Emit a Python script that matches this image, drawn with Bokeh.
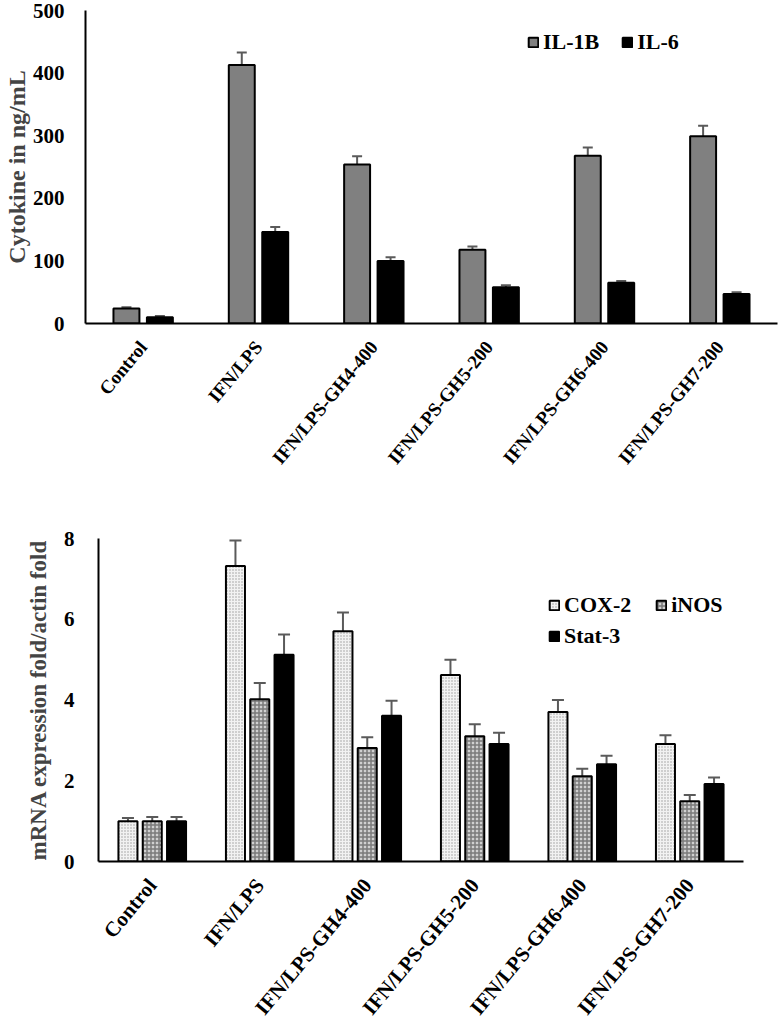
import math

from bokeh.embed import file_html
from bokeh.layouts import column
from bokeh.models import (ColumnDataSource, FactorRange, FixedTicker, Legend,
                          LegendItem, Range1d, TeeHead, Whisker)
from bokeh.plotting import figure
from bokeh.resources import INLINE
from bokeh.transform import dodge

# ---------------------------------------------------------------- data
groups = ["Control", "IFN/LPS", "IFN/LPS-GH4-400", "IFN/LPS-GH5-200",
          "IFN/LPS-GH6-400", "IFN/LPS-GH7-200"]

# cytokine release (ng/mL), mean and SD
il1b = [24, 413, 254, 118, 268, 299]
il1b_sd = [2, 20, 13, 5, 13, 17]
il6 = [10, 146, 100, 58, 65, 47]
il6_sd = [2, 8, 6, 3, 3, 3]
cytokine_ticks = [0, 100, 200, 300, 400, 500]

# mRNA expression (fold over actin), mean and SD
cox2 = [1.0, 7.32, 5.70, 4.62, 3.70, 2.91]
cox2_sd = [0.08, 0.63, 0.47, 0.38, 0.30, 0.22]
inos = [1.0, 4.02, 2.81, 3.10, 2.11, 1.49]
inos_sd = [0.10, 0.40, 0.27, 0.30, 0.19, 0.16]
stat3 = [1.0, 5.12, 3.61, 2.91, 2.41, 1.92]
stat3_sd = [0.10, 0.50, 0.37, 0.28, 0.21, 0.16]
mrna_ticks = [0, 2, 4, 6, 8]

FONT = "Liberation Serif"
ERR = "#5a5a5a"
LABEL_ANGLE = 0.88


def add(a, b):
    return [x + y for x, y in zip(a, b)]


def make_fig(height, ymax, ticks, ylabel, left, right, top, bottom,
             xlabel_size, ylabel_size, tick_gap, title_gap):
    p = figure(x_range=FactorRange(factors=groups), y_range=Range1d(0, ymax),
               width=779, height=height, output_backend="svg",
               toolbar_location=None, min_border_left=left,
               min_border_right=right, min_border_top=top,
               min_border_bottom=bottom)
    # each panel keeps its own frame position inside the column
    p.frame_align = False
    p.outline_line_color = None
    p.grid.grid_line_color = None
    p.background_fill_color = "white"

    ya = p.yaxis[0]
    ya.ticker = FixedTicker(ticks=ticks)
    ya.axis_label = ylabel
    ya.axis_label_text_font = FONT
    ya.axis_label_text_font_style = "bold"
    ya.axis_label_text_font_size = ylabel_size
    ya.axis_label_standoff = title_gap
    ya.major_label_text_font = FONT
    ya.major_label_text_font_style = "bold"
    ya.major_label_text_font_size = "21px"
    ya.major_label_text_color = "black"
    ya.major_label_standoff = tick_gap
    ya.axis_line_width = 2
    ya.axis_line_color = "black"
    ya.major_tick_line_color = None
    ya.minor_tick_line_color = None

    xa = p.xaxis[0]
    xa.major_label_orientation = LABEL_ANGLE
    xa.major_label_text_font = FONT
    xa.major_label_text_font_style = "bold"
    xa.major_label_text_font_size = xlabel_size
    xa.major_label_text_color = "black"
    xa.major_label_standoff = 14
    xa.axis_line_width = 2
    xa.axis_line_color = "black"
    xa.major_tick_line_color = None
    xa.minor_tick_line_color = None
    return p


def error_bars(p, src, offset, lo, hi, head):
    p.add_layout(Whisker(base=dodge("group", offset, range=p.x_range),
                         lower=lo, upper=hi, source=src,
                         line_color=ERR, line_width=2, lower_head=None,
                         upper_head=TeeHead(size=head, line_color=ERR,
                                            line_width=2)))


def style_legend(lg):
    lg.label_text_font = FONT
    lg.label_text_font_style = "bold"
    lg.label_text_font_size = "22px"
    lg.label_text_color = "black"
    lg.glyph_width = 12
    lg.glyph_height = 12
    lg.label_standoff = 4
    lg.padding = 0
    lg.margin = 0
    lg.border_line_color = None
    lg.background_fill_alpha = 0


# ---------------------------------------------------------------- cytokines
top_src = ColumnDataSource(dict(group=groups, il1b=il1b,
                                il1b_hi=add(il1b, il1b_sd), il6=il6,
                                il6_hi=add(il6, il6_sd)))

p1 = make_fig(490, 500, cytokine_ticks, "Cytokine in ng/mL",
              85, 2, 10, 167, "19px", "24px", 15, 0)

r_il1b = p1.vbar(x=dodge("group", -0.145, range=p1.x_range), top="il1b",
                 width=0.225, source=top_src, fill_color="#808080",
                 line_color="black", line_width=2)
r_il6 = p1.vbar(x=dodge("group", 0.145, range=p1.x_range), top="il6",
                width=0.225, source=top_src, fill_color="black",
                line_color="black", line_width=2)
error_bars(p1, top_src, -0.145, "il1b", "il1b_hi", 10)
error_bars(p1, top_src, 0.145, "il6", "il6_hi", 10)

leg1 = Legend(items=[LegendItem(label="IL-1B", renderers=[r_il1b]),
                     LegendItem(label="IL-6", renderers=[r_il6])],
              orientation="horizontal", location=(442, 268), spacing=22)
style_legend(leg1)
p1.add_layout(leg1)

# ---------------------------------------------------------------- mRNA
bot_src = ColumnDataSource(dict(group=groups, cox2=cox2,
                                cox2_hi=add(cox2, cox2_sd), inos=inos,
                                inos_hi=add(inos, inos_sd), stat3=stat3,
                                stat3_hi=add(stat3, stat3_sd)))

p2 = make_fig(540, 8, mrna_ticks, "mRNA expression fold/actin fold",
              98, 36, 48, 167, "21px", "23px", 18, 10)

off = 0.226
r_cox2 = p2.vbar(x=dodge("group", -off, range=p2.x_range), top="cox2",
                 width=0.177, source=bot_src, fill_color="#f2f2f2",
                 hatch_pattern="dot", hatch_color="#9a9a9a", hatch_scale=3,
                 hatch_weight=1, line_color="black", line_width=2)
r_inos = p2.vbar(x=dodge("group", 0, range=p2.x_range), top="inos",
                 width=0.177, source=bot_src, fill_color="#d0d0d0",
                 hatch_pattern="cross", hatch_color="#7a7a7a", hatch_scale=4,
                 hatch_weight=1.5, line_color="black", line_width=2)
r_stat3 = p2.vbar(x=dodge("group", off, range=p2.x_range), top="stat3",
                  width=0.177, source=bot_src, fill_color="black",
                  line_color="black", line_width=2)
error_bars(p2, bot_src, -off, "cox2", "cox2_hi", 12)
error_bars(p2, bot_src, 0, "inos", "inos_hi", 12)
error_bars(p2, bot_src, off, "stat3", "stat3_hi", 12)

leg2a = Legend(items=[LegendItem(label="COX-2", renderers=[r_cox2]),
                      LegendItem(label="iNOS", renderers=[r_inos])],
               orientation="horizontal", location=(450, 243), spacing=24)
leg2b = Legend(items=[LegendItem(label="Stat-3", renderers=[r_stat3])],
               orientation="horizontal", location=(450, 212))
style_legend(leg2a)
style_legend(leg2b)
p2.add_layout(leg2a)
p2.add_layout(leg2b)

page = column(p1, p2, spacing=0)
open("out.html", "w").write(file_html(page, INLINE))
